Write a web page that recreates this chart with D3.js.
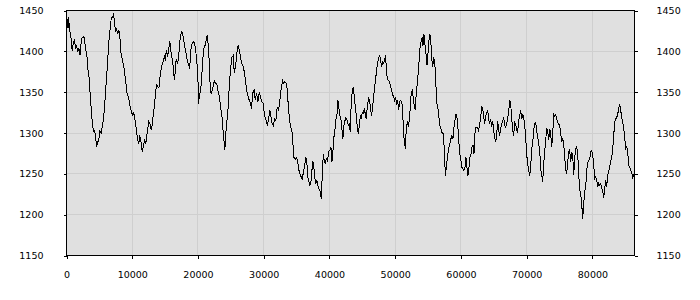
<!DOCTYPE html>
<html><head><meta charset="utf-8">
<script src="https://cdn.jsdelivr.net/npm/d3@7"></script>
<style>
html,body{margin:0;padding:0;background:#fff;}
svg{display:block;}
text{font-family:"DejaVu Sans",Verdana,sans-serif;font-size:9.5px;fill:#000;}
</style></head>
<body><svg id="c" width="700" height="300"></svg>
<script>
const times = [
0,150,230,300,460,720,870,1070,1220,1370,1520,1720,1870,2080,2240,2390,2590,2740,2890,3090,
3240,3450,3610,3760,3910,4110,4260,4410,4570,4760,4920,5070,5280,5430,5630,5780,5930,6130,6280,6440,
6650,6800,7000,7150,7300,7460,7610,7810,7960,8110,8320,8480,8670,8830,8980,9180,9330,9480,9690,9850,
10000,10200,10350,10500,10700,10850,11000,11150,11310,11520,11720,11870,12070,12220,12370,12520,12680,12890,13040,13240,
13390,13540,13740,13890,14050,14260,
14500,14760,14910,15020,15170,15370,15520,15670,15830,15930,16080,16280,16390,16540,16690,16850,17040,17200,17350,17550,
17700,17850,18060,18260,18410,18570,18720,18870,18980,19170,19370,19520,19680,19830,19980,20090,20240,20390,20590,20740,
20890,21110,21260,21410,21560,21710,21870,22020,22170,22320,22480,22630,22830,22980,23130,23280,23430,23630,23780,23940,
24040,24200,24300,24500,24650,24800,24960,25150,25370,25520,25670,25820,25980,26130,26280,26430,26580,26740,26930,27090,
27240,27390,27590,27800,28000,28150,28300,28560,
28710,28910,29110,29320,29520,29720,29930,30130,30330,30540,30740,30940,31090,31240,31450,31650,31850,32060,32260,32460,
32670,32870,33020,33170,33370,33520,33680,33890,34090,34280,34440,34590,34800,35000,35150,35300,35500,35710,35870,36020,
36220,36410,36570,36720,36870,37020,37180,37330,37480,37630,37780,37940,38090,38240,38390,38540,38760,38910,39060,39210,
39370,39520,39720,39870,40070,40220,40370,40520,40680,40830,40980,41130,41280,41440,41590,41740,41890,42040,42200,42350,
42500,42710,42870,
43020,43170,43320,43480,43630,43780,43930,44080,44240,44390,44540,44690,44840,45000,45150,45300,45450,45610,45760,45960,
46110,46260,46410,46560,46720,46870,47020,47170,47330,47480,47630,47780,47930,48090,48240,48390,48540,48690,48850,49000,
49150,49300,49460,49610,49760,49910,50060,50220,50370,50520,50670,50820,50980,51130,51240,51390,51540,51690,51840,52000,
52150,52300,52450,52610,52760,52910,53060,53210,53370,53520,53670,53820,53970,54130,54220,54370,54520,54680,54830,54980,
55130,55280,55440,55540,55690,55850,56000,56150,56300,56460,56610,56760,56910,57060,
57320,57480,57630,57780,57930,58130,58330,58480,58630,58780,58940,59090,59240,59390,59540,59700,59850,60000,60150,60310,
60460,60610,60760,60910,61070,61220,61370,61520,61670,61830,61980,62130,62280,62500,62690,62850,63000,63150,63300,63460,
63610,63760,63910,64060,64220,64370,64520,64670,64820,64980,65130,65280,65430,65590,65740,65890,66040,66190,66350,66500,
66650,66800,66950,67110,67260,67410,67560,67720,67870,68020,68170,68320,68480,68630,68780,68930,69090,69240,69390,69540,
69690,69850,70000,70150,70300,70460,70610,70760,70910,71060,71220,
71370,71520,71670,71820,71980,72130,72280,72430,72590,72740,72890,73040,73190,73350,73500,73650,73800,73960,74110,74260,
74410,74560,74720,74870,75020,75170,75320,75480,75630,75780,75930,76090,76240,76390,76540,76690,76850,77000,77150,77300,
77460,77610,77760,77910,78060,78220,78370,78520,78670,78820,78980,79130,79280,79430,79590,79740,79890,80040,80190,80350,
80500,80650,80800,80950,81110,81260,81410,81560,81720,81870,82020,82170,82320,82480,82630,82780,82930,83090,83240,83390,
83540,83690,83850,84000,84150,84300,84450,84610,84760,84910,85060,85220,85370,85520,85670,85820,85980,86130,86280,86400
];
const values = [
1430,1440,1428,1442,1428,1414,1400,1412,1414,1403,1406,1400,1404,1395,1412,1417,1418,1416,1403,1396,
1379,1367,1346,1330,1314,1302,1303,1297,1283,1289,1292,1302,1300,1307,1318,1330,1350,1371,1391,1412,
1428,1440,1442,1445,1436,1424,1427,1422,1426,1418,1395,1391,1383,1375,1365,1350,1346,1342,1332,1327,
1322,1325,1320,1312,1299,1291,1287,1297,1290,1277,1285,1291,1287,1297,1306,1314,1312,1304,1310,1326,
1334,1350,1359,1357,1355,1371,
1383,1389,1395,1388,1401,1395,1399,1412,1408,1395,1391,1379,1365,1375,1391,1385,1391,1408,1420,1424,
1420,1413,1403,1395,1387,1385,1379,1395,1408,1410,1412,1408,1399,1387,1371,1336,1348,1350,1371,1391,
1403,1408,1414,1420,1408,1387,1354,1348,1352,1358,1364,1361,1361,1355,1348,1344,1332,1322,1306,1293,
1279,1289,1310,1320,1342,1363,1379,1393,1395,1373,1381,1389,1403,1408,1401,1395,1387,1383,1381,1371,
1365,1352,1346,1340,1336,1330,1348,1354,
1340,1349,1338,1350,1344,1338,1336,1321,1317,1309,1317,1328,1320,1313,1309,1317,1315,1332,1328,1340,
1356,1364,1361,1363,1362,1358,1340,1319,1307,1303,1287,1270,1268,1270,1266,1256,1250,1246,1242,1252,
1260,1270,1262,1246,1240,1236,1240,1254,1266,1258,1244,1238,1242,1236,1232,1230,1219,1250,1274,1266,
1262,1269,1266,1277,1279,1283,1264,1277,1295,1303,1317,1321,1340,1330,1321,1317,1305,1293,1309,1315,
1319,1315,1309,
1311,1301,1340,1352,1356,1344,1332,1321,1307,1299,1309,1321,1319,1325,1324,1330,1323,1317,1334,1342,
1340,1328,1321,1332,1344,1356,1366,1377,1387,1391,1395,1389,1381,1387,1385,1389,1395,1372,1366,1364,
1362,1358,1352,1346,1346,1338,1344,1334,1340,1328,1338,1340,1338,1330,1303,1289,1281,1307,1313,1309,
1315,1332,1350,1352,1342,1332,1328,1350,1362,1375,1393,1409,1413,1417,1407,1421,1409,1397,1383,1397,
1413,1421,1409,1393,1381,1391,1389,1368,1338,1332,1324,1309,1307,1301,
1299,1279,1248,1258,1270,1281,1287,1293,1297,1293,1307,1315,1323,1319,1307,1287,1274,1266,1258,1256,
1254,1258,1270,1258,1248,1258,1270,1274,1283,1285,1274,1299,1307,1307,1303,1311,1319,1332,1330,1321,
1311,1321,1325,1328,1317,1311,1317,1307,1315,1303,1295,1289,1297,1315,1303,1297,1305,1311,1315,1319,
1309,1307,1311,1319,1325,1340,1336,1319,1303,1297,1313,1311,1303,1301,1315,1321,1328,1317,1323,1319,
1311,1295,1274,1262,1254,1248,1258,1281,1287,1303,1311,
1313,1303,1295,1287,1279,1256,1250,1240,1262,1277,1291,1305,1303,1291,1305,1299,1283,1299,1323,1321,
1323,1317,1313,1311,1309,1301,1289,1293,1287,1270,1256,1250,1264,1277,1279,1264,1277,1273,1248,1270,
1281,1283,1275,1250,1230,1226,1213,1195,1213,1228,1234,1254,1264,1266,1268,1277,1279,1273,1262,1244,
1246,1242,1234,1238,1236,1238,1232,1229,1221,1232,1242,1234,1248,1254,1258,1266,1270,1281,1297,1313,
1317,1319,1323,1330,1336,1328,1319,1313,1305,1295,1281,1283,1277,1260,1258,1254,1252,1244,1250,1242
];
const xTicks = [0,10000,20000,30000,40000,50000,60000,70000,80000];
const yTicks = [1150,1200,1250,1300,1350,1400,1450];

const svg = d3.select("#c");
const L=66,R=634,T=10,B=255;
const x = d3.scaleLinear().domain([0,86400]).range([L,R]);
const y = d3.scaleLinear().domain([1150,1450]).range([B,T]);
const g = svg.append("g").attr("transform","translate(0.5,0.5)");

g.append("rect").attr("x",L).attr("y",T).attr("width",R-L).attr("height",B-T)
  .attr("fill","#e0e0e0");

// grid
g.append("g").selectAll("line").data(xTicks.filter(d=>d>0)).join("line")
  .attr("x1",d=>x(d)).attr("x2",d=>x(d)).attr("y1",T).attr("y2",B)
  .attr("stroke","#cfcfcf").attr("shape-rendering","crispEdges");
g.append("g").selectAll("line").data(yTicks.filter(d=>d>1150&&d<1450)).join("line")
  .attr("y1",d=>y(d)).attr("y2",d=>y(d)).attr("x1",L).attr("x2",R)
  .attr("stroke","#cfcfcf").attr("shape-rendering","crispEdges");

// line
const data = times.map((t,i)=>[t,values[i]]);
g.append("path").datum(data)
  .attr("fill","none").attr("stroke","#000").attr("stroke-width",1)
  .attr("shape-rendering","crispEdges")
  .attr("d", d3.line().x(d=>x(d[0])).y(d=>y(d[1])));

// border
g.append("rect").attr("x",L).attr("y",T).attr("width",R-L).attr("height",B-T)
  .attr("fill","none").attr("stroke","#000").attr("shape-rendering","crispEdges");

function style(ax){
  ax.select(".domain").remove();
  ax.selectAll(".tick line").attr("stroke","#000").attr("shape-rendering","crispEdges");
  ax.selectAll("text").attr("fill","#000").style("font-family","'DejaVu Sans',Verdana,sans-serif").style("font-size","9.5px");
}
const ax1 = g.append("g").attr("transform",`translate(${L},0)`)
  .call(d3.axisLeft(y).tickValues(yTicks).tickSize(3).tickPadding(20).tickFormat(d3.format("d")));
style(ax1);
const ax2 = g.append("g").attr("transform",`translate(${R},0)`)
  .call(d3.axisRight(y).tickValues(yTicks).tickSize(3).tickPadding(19).tickFormat(d3.format("d")));
style(ax2);
const ax3 = g.append("g").attr("transform",`translate(0,${B})`)
  .call(d3.axisBottom(x).tickValues(xTicks).tickSize(3).tickPadding(13).tickFormat(d3.format("d")));
style(ax3);
</script></body></html>
